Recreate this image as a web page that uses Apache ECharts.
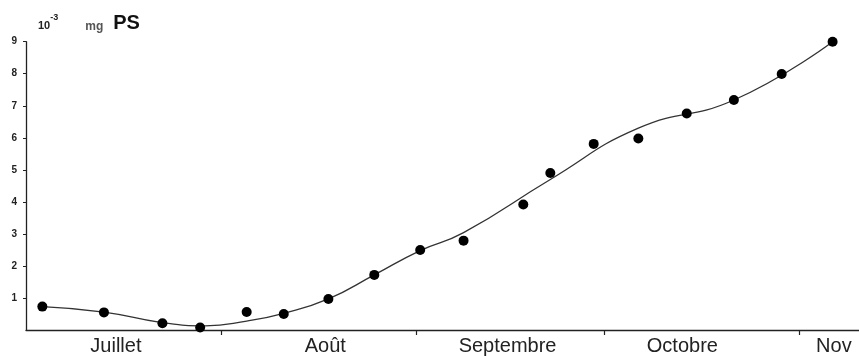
<!DOCTYPE html>
<html><head><meta charset="utf-8">
<script src="https://cdn.jsdelivr.net/npm/echarts@6/dist/echarts.min.js"></script>
<style>html,body{margin:0;padding:0;background:#fff}#c{width:859px;height:357px}</style>
</head><body><div id="c"></div>
<script>
// x = days since 1 July
const monthNames = ['Juillet', 'Août', 'Septembre', 'Octobre', 'Nov'];
const monthLabelDays = [14.3, 47.6, 76.6, 104.4, 128.5];
const monthStartDays = [31, 62, 92, 123];
const yTicks = [1, 2, 3, 4, 5, 6, 7, 8, 9];

// observed points (10^-3 mg PS)
const obsDays = [2.6, 12.4, 21.7, 27.7, 35.1, 41.0, 48.1, 55.4, 62.7, 69.6, 79.1, 83.4, 90.3, 97.4, 105.1, 112.6, 120.2, 128.3];
const obsVals = [0.73, 0.55, 0.21, 0.08, 0.56, 0.50, 0.97, 1.72, 2.50, 2.79, 3.92, 4.90, 5.81, 5.98, 6.76, 7.18, 7.99, 9.00];

// fitted curve
const curveDays = [2.6, 12.4, 21.4, 28.5, 35.1, 41.0, 48.1, 55.4, 62.7, 69.6, 83.4, 97.4, 112.6, 128.3];
const curveVals = [0.73, 0.56, 0.24, 0.13, 0.28, 0.52, 0.97, 1.72, 2.48, 3.04, 4.70, 6.30, 7.18, 9.00];

const chart = echarts.init(document.getElementById('c'), null, {renderer: 'canvas'});
chart.setOption({
  animation: false,
  backgroundColor: '#fff',
  title: {
    left: 33, top: 8,
    text: '{n|10}{s|-3}{u|mg}{b|PS}',
    textStyle: {
      rich: {
        n: {fontSize: 11, fontFamily: 'Liberation Sans, Arial', color: '#222', verticalAlign: 'bottom', padding: [0, 0, 2, 0]},
        s: {fontSize: 9, fontFamily: 'Liberation Sans, Arial', color: '#222', verticalAlign: 'top'},
        u: {fontSize: 12, fontFamily: 'Liberation Sans, Arial', color: '#555', verticalAlign: 'bottom', padding: [0, 0, 0, 27]},
        b: {fontSize: 20, fontWeight: 'bold', fontFamily: 'Liberation Sans, Arial', color: '#111', padding: [0, 0, 0, 10]}
      }
    }
  },
  grid: {left: 26, right: 0, top: 41.7, bottom: 27, containLabel: false, outerBoundsMode: 'none'},
  xAxis: {
    type: 'value', min: 0, max: 132.5,
    splitLine: {show: false},
    axisLine: {show: true, lineStyle: {color: '#222', width: 1.3}},
    axisTick: {show: true, customValues: monthStartDays, length: 5, lineStyle: {color: '#222', width: 1.2}},
    axisLabel: {
      show: true, customValues: monthLabelDays, margin: 6,
      fontSize: 20, fontFamily: 'Liberation Sans, Arial', color: '#222',
      formatter: v => monthNames[monthLabelDays.indexOf(v)] || ''
    }
  },
  yAxis: {
    type: 'value', min: 0, max: 9, interval: 1,
    splitLine: {show: false},
    axisLine: {show: true, lineStyle: {color: '#222', width: 1.3}},
    axisTick: {show: true, customValues: yTicks, length: 3, lineStyle: {color: '#222', width: 1}},
    axisLabel: {
      show: true, customValues: yTicks, margin: 9,
      fontSize: 10, fontWeight: 'bold', fontFamily: 'Liberation Sans, Arial', color: '#222'
    }
  },
  series: [
    {
      type: 'line', name: 'curve',
      data: curveDays.map((d, i) => [d, curveVals[i]]),
      showSymbol: false, smooth: 0.5,
      lineStyle: {color: '#333', width: 1.3}, z: 1, silent: true
    },
    {
      type: 'scatter', name: 'obs',
      data: obsDays.map((d, i) => [d, obsVals[i]]),
      symbol: 'circle', symbolSize: 10,
      itemStyle: {color: '#000', opacity: 1}, z: 2
    }
  ]
});
</script></body></html>
